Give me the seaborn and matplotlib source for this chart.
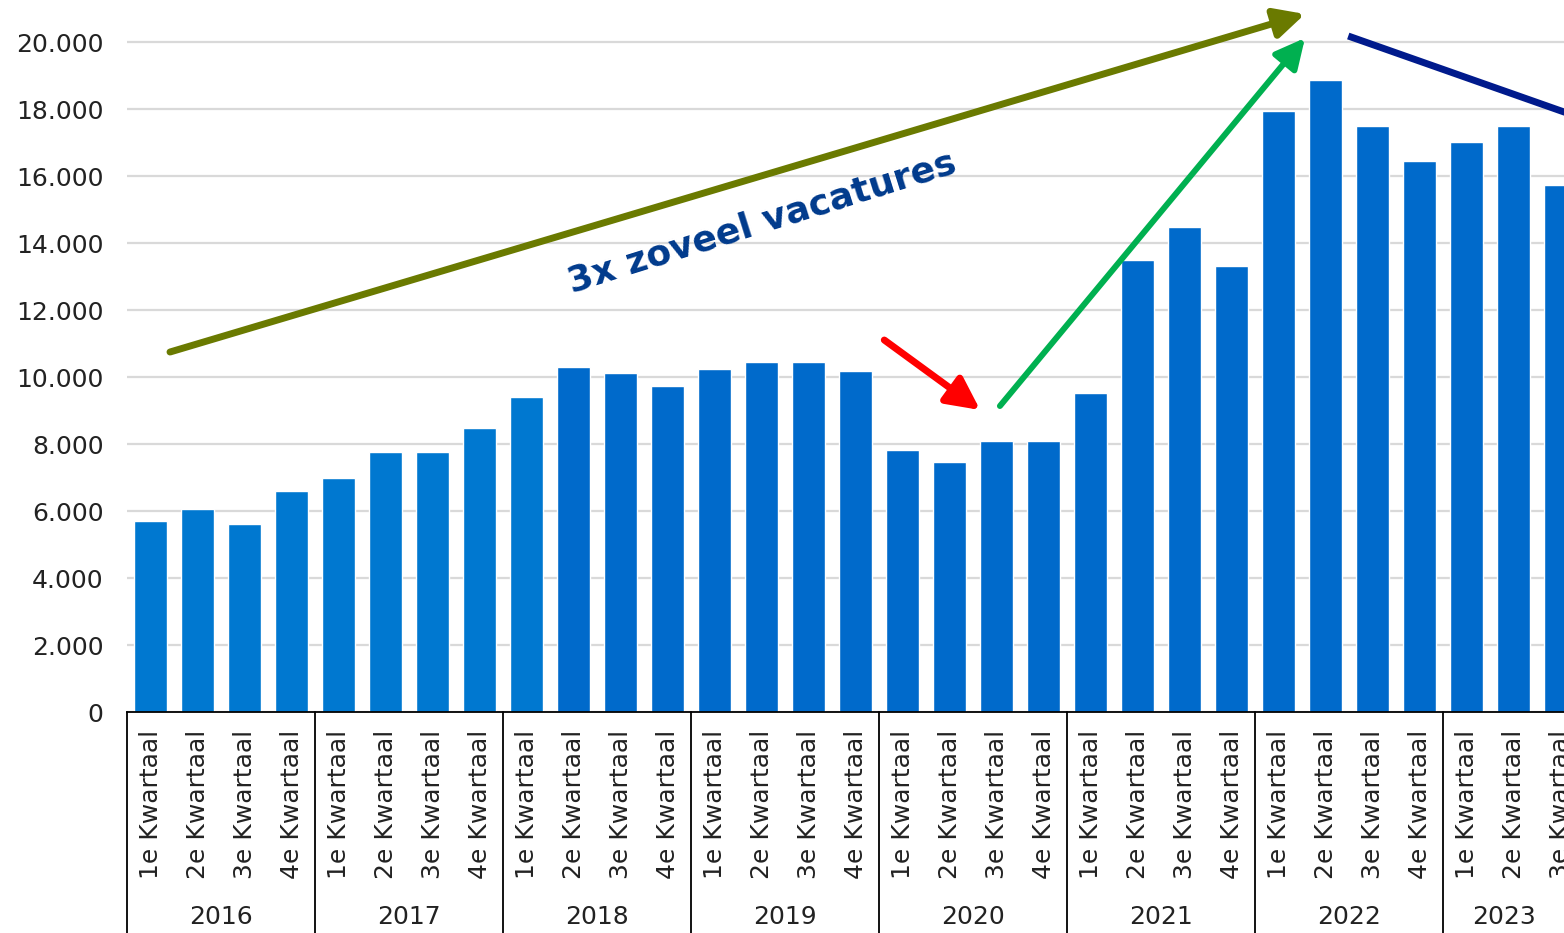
import pandas as pd
import matplotlib.pyplot as plt
import matplotlib.transforms as mtransforms
from matplotlib.ticker import FuncFormatter
import seaborn as sns

years = ["2016", "2017", "2018", "2019", "2020", "2021", "2022", "2023"]
quarters = ["1e Kwartaal", "2e Kwartaal", "3e Kwartaal", "4e Kwartaal"]
vacatures = [5700, 6060, 5610, 6600,
             7000, 7760, 7760, 8480,
             9400, 10300, 10120, 9730,
             10240, 10450, 10450, 10180,
             7820, 7460, 8090, 8090,
             9520, 13490, 14480, 13310,
             17940, 18870, 17490, 16450,
             17010, 17490, 15730]

rows = []
for i, v in enumerate(vacatures):
    rows.append({"Jaar": years[i // 4], "Kwartaal": quarters[i % 4],
                 "Label": f"{years[i // 4]} {quarters[i % 4]}", "Vacatures": v})
df = pd.DataFrame(rows)

colors = ["#0078D0"] * 9 + ["#006ACB"] * (len(df) - 9)

sns.set_style("white")
plt.rcParams["font.family"] = ["DejaVu Sans"]

fig = plt.figure(figsize=(15.64, 9.33), dpi=100)
ax = fig.add_axes([127 / 1564, 221 / 933, 1437 / 1564, 712 / 933])

sns.barplot(data=df, x="Label", y="Vacatures", hue="Label", palette=colors,
            legend=False, width=0.7, ax=ax, saturation=1)

xmax = 30.07
ax.set_xlim(-0.5, xmax)
ax.set_ylim(0, 21254)
ax.set_yticks(range(0, 20001, 2000))
ax.yaxis.set_major_formatter(FuncFormatter(lambda v, p: f"{v:,.0f}".replace(",", ".")))
ax.grid(axis="y", color="#D9D9D9", lw=1.6)
ax.set_axisbelow(True)
for s in ["top", "right", "left"]:
    ax.spines[s].set_visible(False)
ax.spines["bottom"].set_color("black")
ax.spines["bottom"].set_linewidth(1.3)

ax.set_xticks(range(len(df)))
ax.set_xticklabels(df["Kwartaal"], rotation=90, fontsize=18, color="#222222")
ax.tick_params(axis="x", length=0, pad=13)
ax.tick_params(axis="y", length=0, pad=17, labelsize=18, labelcolor="#222222")
ax.set_xlabel("")
ax.set_ylabel("")

# jaar-as onder de kwartalen
trans = mtransforms.blended_transform_factory(ax.transData, ax.transAxes)
for g, y in enumerate(years):
    left = g * 4 - 0.5
    right = min(left + 4, xmax)
    ax.plot([left, left], [0, -0.32], transform=trans, color="black", lw=1.3, clip_on=False)
    ax.text((left + right) / 2, -0.288, y, transform=trans, ha="center", va="center",
            fontsize=18, color="#222222", clip_on=False)

# pijlen en tekst
head = "-|>,head_length=0.9,head_width=0.45"
ax.annotate("", xy=(24.56, 20836), xytext=(0.415, 10746), annotation_clip=False,
            arrowprops=dict(arrowstyle=head, color="#6A7A00", lw=5, mutation_scale=20,
                            shrinkA=0, shrinkB=0))
ax.annotate("", xy=(24.56, 20119), xytext=(18.07, 9134), annotation_clip=False,
            arrowprops=dict(arrowstyle=head, color="#00B050", lw=4.3, mutation_scale=20,
                            shrinkA=0, shrinkB=0))
ax.annotate("", xy=(17.65, 9015), xytext=(15.61, 11104), annotation_clip=False,
            arrowprops=dict(arrowstyle=head, color="#FF0000", lw=5, mutation_scale=22,
                            shrinkA=0, shrinkB=0))
ax.plot([25.48, 31], [20179, 17452], color="#001A8C", lw=5, solid_capstyle="butt")

ax.text(13.01, 14627, "3x zoveel vacatures", rotation=17.4, rotation_mode="anchor",
        ha="center", va="center", fontsize=26, fontweight="bold", color="#003A8C")

fig.savefig("out.png", dpi=100)
